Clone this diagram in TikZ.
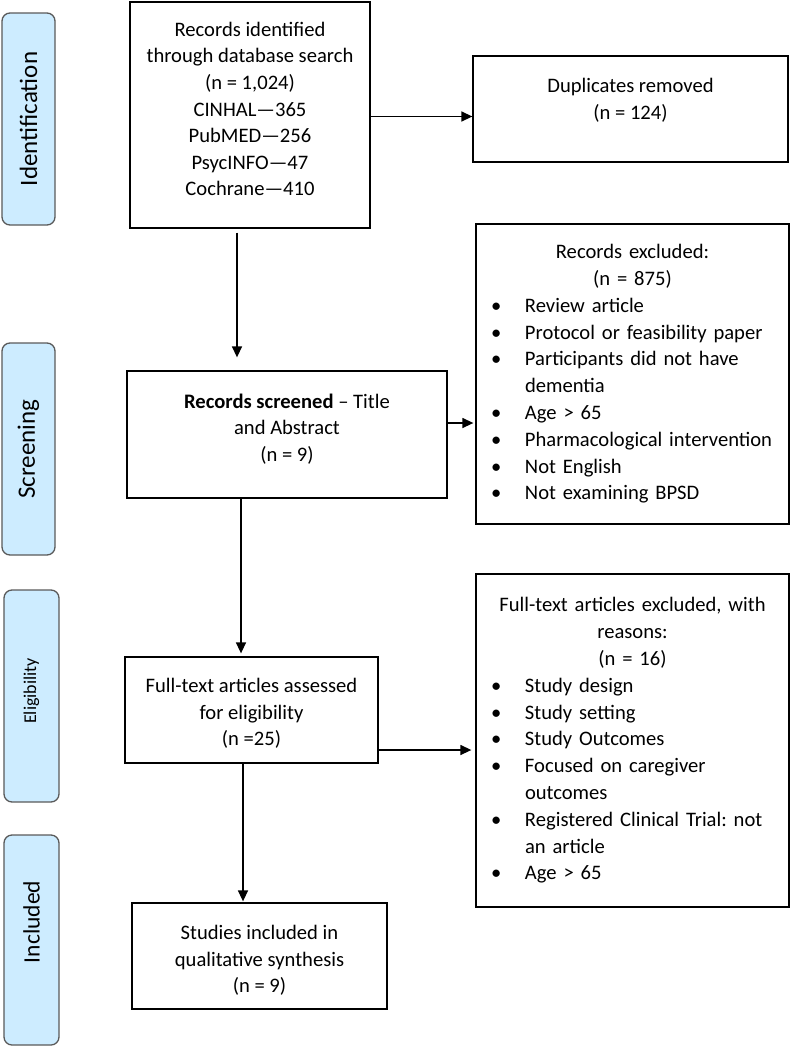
\documentclass[tikz,border=0pt]{standalone}
\usepackage{fontspec}
\setmainfont{Carlito}
\usetikzlibrary{arrows.meta}
\frenchspacing
\definecolor{sidefill}{RGB}{205,236,255}
\definecolor{sideline}{RGB}{90,90,90}
\newcommand\bitem[1]{\makebox[49bp][l]{\hspace{15bp}\textbullet}#1}
\newcommand\bcont[1]{\makebox[49bp][l]{}#1}
\newcommand\dn[1]{\rule[-#1]{0pt}{0pt}}
\newcommand\up[1]{\rule{0pt}{#1}}
\tikzset{
  box/.style={draw=black, line width=1.3bp, inner sep=0pt, align=center,
    font=\fontsize{20.6bp}{26.6bp}\selectfont},
  listbox/.style={draw=black, line width=1.3bp, inner sep=0pt,
    font=\fontsize{20.6bp}{26.8bp}\selectfont},
  side/.style={draw=sideline, fill=sidefill, line width=1.3bp, rounded corners=8bp, inner sep=0pt},
  arr/.style={draw=black, line width=1.4bp, -{Triangle[length=11bp,width=10bp]}}
}
\begin{document}
\begin{tikzpicture}[x=1bp,y=-1bp]
\useasboundingbox (0,0) rectangle (791,1050);
% side labels
\node[side, minimum width=53bp, minimum height=212bp] (sid) at (28.5,119)
  {\rotatebox{90}{\fontsize{25bp}{30bp}\selectfont Identification}};
\node[side, minimum width=53bp, minimum height=212bp] (ssc) at (28.5,449)
  {\rotatebox{90}{\fontsize{25bp}{30bp}\selectfont Screening}};
\node[side, minimum width=55bp, minimum height=212bp] (sel) at (31.5,696)
  {\rotatebox{90}{\fontsize{18bp}{22bp}\selectfont \hspace*{10bp}Eligibility}};
\node[side, minimum width=55bp, minimum height=210bp] (sin) at (31.5,940)
  {\rotatebox{90}{\fontsize{23.5bp}{28bp}\selectfont \hspace*{36bp}Included}};
% main boxes
\node[box, minimum width=240bp, minimum height=226bp] (A) at (250,115)
  {Records identified\\through database search\\(n = 1,024)\\CINHAL—365\\PubMED—256\\PsycINFO—47\\Cochrane—410\dn{12bp}};
\node[box, minimum width=315bp, minimum height=106bp] (D) at (630.5,109)
  {Duplicates removed\\(n = 124)\dn{20bp}};
\node[box, minimum width=320bp, minimum height=127bp] (S) at (287,434.5)
  {\textbf{Records screened} – Title\\and Abstract\\(n = 9)\dn{14bp}};
\node[box, minimum width=253bp, minimum height=106bp] (E) at (251.5,710)
  {\up{21.5bp}Full-text articles assessed\\for eligibility\\(n =25)};
\node[box, minimum width=255bp, minimum height=106bp] (I) at (259.5,956)
  {\up{23.5bp}Studies included in\\qualitative synthesis\\(n = 9)};
\node[listbox, text width=313bp, minimum height=300bp] (X1) at (632.5,374)
  {{\centering Records excluded:\\(n = 875)\par}
   \raggedright
   \bitem{Review article}\\
   \bitem{Protocol or feasibility paper}\\
   \bitem{Participants did not have}\\
   \bcont{dementia}\\
   \bitem{Age > 65}\\
   \bitem{Pharmacological intervention}\\
   \bitem{Not English}\\
   \bitem{Not examining BPSD}\par};
\node[listbox, text width=313bp, minimum height=333bp] (X2) at (632.5,740.5)
  {{\centering Full-text articles excluded, with\\reasons:\\(n = 16)\par}
   \raggedright
   \bitem{Study design}\\
   \bitem{Study setting}\\
   \bitem{Study Outcomes}\\
   \bitem{Focused on caregiver}\\
   \bcont{outcomes}\\
   \bitem{Registered Clinical Trial: not}\\
   \bcont{an article}\\
   \bitem{Age > 65}\par};
% connectors
\draw[arr] ([yshift=-1.5bp]A.east) -- ([yshift=-1.5bp]A.east -| D.west);
\draw[arr, shorten <=4bp, shorten >=13bp] ([xshift=-13bp]A.south) -- ([xshift=-13bp]A.south |- S.north);
\draw[arr, shorten >=2bp] ([yshift=11.5bp]S.east) -- ([yshift=11.5bp]S.east -| X1.west);
\draw[arr, shorten >=3bp] ([xshift=-46bp]S.south) -- ([xshift=-46bp]S.south |- E.north);
\draw[arr, shorten >=4bp] ([yshift=-40bp]E.east) -- ([yshift=-40bp]E.east -| X2.west);
\draw[arr, shorten >=1bp] ([xshift=-8.5bp]E.south) -- ([xshift=-8.5bp]E.south |- I.north);
\end{tikzpicture}
\end{document}
